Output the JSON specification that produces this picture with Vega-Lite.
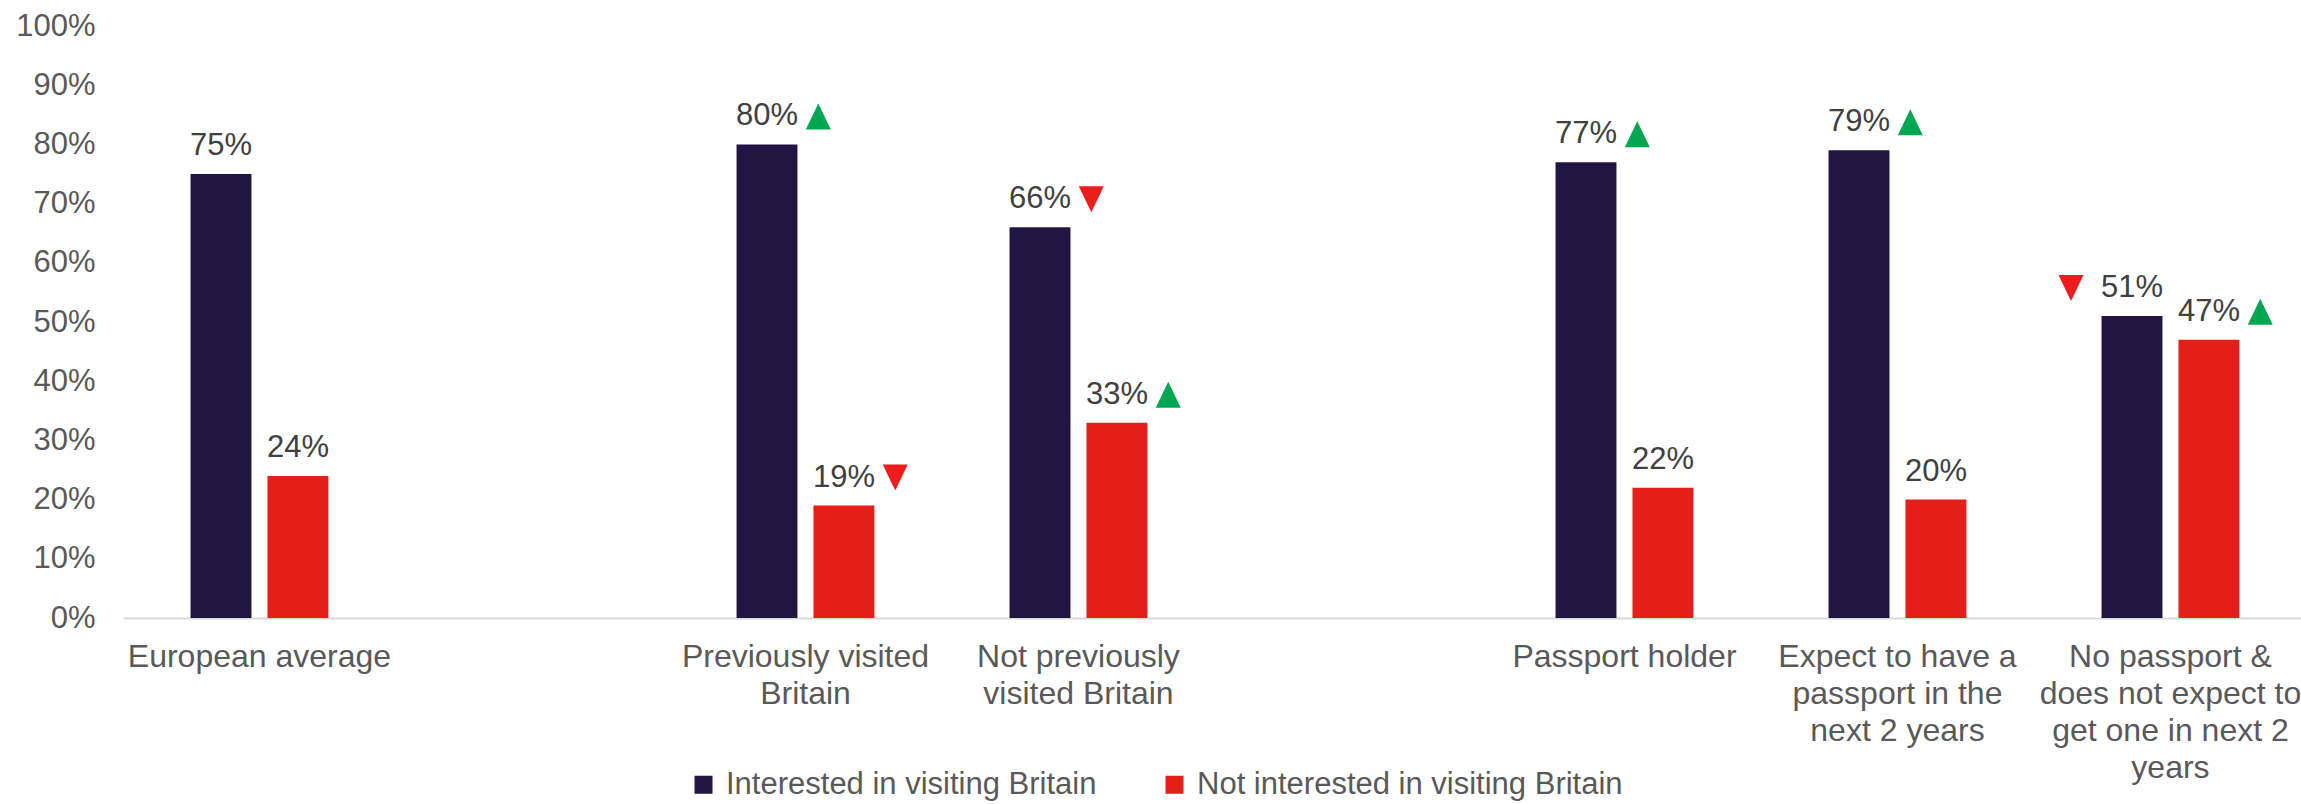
{
  "$schema": "https://vega.github.io/schema/vega-lite/v6.json",
  "autosize": {"type": "none"},
  "padding": {"left": 123, "top": 26, "right": 0, "bottom": 186},
  "width": 2178,
  "height": 592,
  "background": "white",
  "config": {
    "font": "Liberation Sans",
    "view": {"stroke": null}
  },
  "data": {
    "values": [
      {"group": "European average", "series": "Interested in visiting Britain", "value": 0.75, "arrow": null},
      {"group": "European average", "series": "Not interested in visiting Britain", "value": 0.24, "arrow": null},
      {"group": "Previously visited|Britain", "series": "Interested in visiting Britain", "value": 0.80, "arrow": "up-right"},
      {"group": "Previously visited|Britain", "series": "Not interested in visiting Britain", "value": 0.19, "arrow": "down-right"},
      {"group": "Not previously|visited Britain", "series": "Interested in visiting Britain", "value": 0.66, "arrow": "down-right"},
      {"group": "Not previously|visited Britain", "series": "Not interested in visiting Britain", "value": 0.33, "arrow": "up-right"},
      {"group": "Passport holder", "series": "Interested in visiting Britain", "value": 0.77, "arrow": "up-right"},
      {"group": "Passport holder", "series": "Not interested in visiting Britain", "value": 0.22, "arrow": null},
      {"group": "Expect to have a|passport in the|next 2 years", "series": "Interested in visiting Britain", "value": 0.79, "arrow": "up-right"},
      {"group": "Expect to have a|passport in the|next 2 years", "series": "Not interested in visiting Britain", "value": 0.20, "arrow": null},
      {"group": "No passport &|does not expect to|get one in next 2|years", "series": "Interested in visiting Britain", "value": 0.51, "arrow": "down-left"},
      {"group": "No passport &|does not expect to|get one in next 2|years", "series": "Not interested in visiting Britain", "value": 0.47, "arrow": "up-right"}
    ]
  },
  "encoding": {
    "x": {
      "field": "group",
      "type": "nominal",
      "sort": null,
      "scale": {
        "domain": ["European average", "gap1", "Previously visited|Britain", "Not previously|visited Britain", "gap2", "Passport holder", "Expect to have a|passport in the|next 2 years", "No passport &|does not expect to|get one in next 2|years"],
        "paddingInner": 0.495,
        "paddingOuter": 0.2365,
        "align": 0.523
      },
      "axis": {
        "title": null,
        "labelAngle": 0,
        "labelExpr": "indexof(datum.label, 'gap') == 0 ? '' : split(datum.label, '|')",
        "labelFontSize": 32,
        "labelColor": "#595959",
        "labelLineHeight": 37,
        "labelLimit": 400,
        "labelPadding": 23,
        "labelOverlap": false,
        "ticks": false,
        "grid": false,
        "domainColor": "#D9D9D9",
        "domainWidth": 2
      }
    },
    "xOffset": {
      "field": "series",
      "type": "nominal",
      "sort": ["Interested in visiting Britain", "Not interested in visiting Britain"],
      "scale": {"paddingInner": 0.208, "paddingOuter": 0}
    },
    "y": {
      "field": "value",
      "type": "quantitative",
      "scale": {"domain": [0, 1], "nice": false},
      "axis": {
        "title": null,
        "values": [0, 0.1, 0.2, 0.3, 0.4, 0.5, 0.6, 0.7, 0.8, 0.9, 1.0],
        "format": ".0%",
        "labelFontSize": 31,
        "labelColor": "#595959",
        "labelPadding": 28,
        "ticks": false,
        "domain": false,
        "grid": false
      }
    }
  },
  "layer": [
    {
      "mark": {"type": "bar"},
      "encoding": {
        "color": {
          "field": "series",
          "type": "nominal",
          "sort": ["Interested in visiting Britain", "Not interested in visiting Britain"],
          "scale": {"range": ["#201641", "#E41F1A"]},
          "legend": {
            "title": null,
            "orient": "none",
            "direction": "horizontal",
            "legendX": 565,
            "legendY": 743,
            "padding": 0,
            "symbolType": "square",
            "symbolSize": 324,
            "symbolStrokeWidth": 0,
            "labelFontSize": 31,
            "labelColor": "#595959",
            "labelOffset": 7,
            "labelLimit": 600,
            "columnPadding": 62
          }
        }
      }
    },
    {
      "mark": {"type": "text", "dy": -28, "baseline": "middle", "align": "center", "fontSize": 31, "color": "#404040"},
      "encoding": {
        "text": {"field": "value", "type": "quantitative", "format": ".0%"}
      }
    },
    {
      "transform": [{"filter": "datum.arrow != null"}],
      "mark": {"type": "point", "filled": true, "opacity": 1, "size": 729, "strokeWidth": 0},
      "encoding": {
        "shape": {
          "field": "arrow",
          "type": "nominal",
          "scale": {
            "domain": ["up-right", "down-right", "down-left"],
            "range": [
              "M2.874,-1.11L4.726,-1.11L3.8,-3.036Z",
              "M2.874,-3.036L4.726,-3.036L3.8,-1.11Z",
              "M-5.446,-3.036L-3.594,-3.036L-4.52,-1.11Z"
            ]
          },
          "legend": null
        },
        "fill": {
          "condition": {"test": "indexof(datum.arrow, 'up') == 0", "value": "#00A651"},
          "value": "#EE1C1C"
        }
      }
    }
  ]
}
